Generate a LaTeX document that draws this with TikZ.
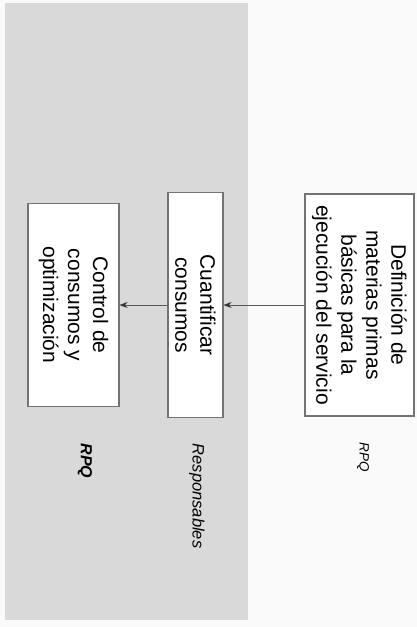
\documentclass[tikz,border=0pt]{standalone}
\usepackage{fontspec}
\setmainfont{Liberation Sans}
\usetikzlibrary{arrows.meta}
\begin{document}
\begin{tikzpicture}[x=1pt,y=-1pt,
  caja/.style={draw=black!55,line width=1.1pt,fill=white,rotate=-90,align=center,
    inner sep=0pt,font=\fontsize{21}{25}\selectfont},
  etiqueta/.style={rotate=-90,inner sep=0pt,font=\itshape\fontsize{16.5}{18}\selectfont},
  flecha/.style={draw=black!65,line width=0.8pt,-{Stealth[length=8pt,width=6pt,black!80]}}]
\useasboundingbox[fill=black!2] (0,0) rectangle (417,627);
\fill[black!15] (5,3) rectangle (248,620);

% cajas
\node[caja,minimum width=222pt,minimum height=109pt] (defin) at (359.5,305)
  {Definición de\\materias primas\\básicas para la\\ejecución del servicio};
\node[caja,minimum width=225pt,minimum height=55pt] (cuant) at (195.5,305)
  {Cuantificar\\consumos};
\node[caja,minimum width=203pt,minimum height=91pt] (control) at (73.5,305)
  {Control de\\consumos y\\optimización};

% responsables
\node[etiqueta,font=\itshape\fontsize{13.5}{15}\selectfont] (rpqb) at (363,457) {RPQ};
\node[etiqueta] (resp) at (197,496) {Responsables};
\node[etiqueta,font=\bfseries\itshape\fontsize{16}{18}\selectfont] (rpqa) at (85,461) {RPQ};

\draw[flecha] (defin) -- (cuant);
\draw[flecha] (cuant) -- (control);
\end{tikzpicture}
\end{document}
